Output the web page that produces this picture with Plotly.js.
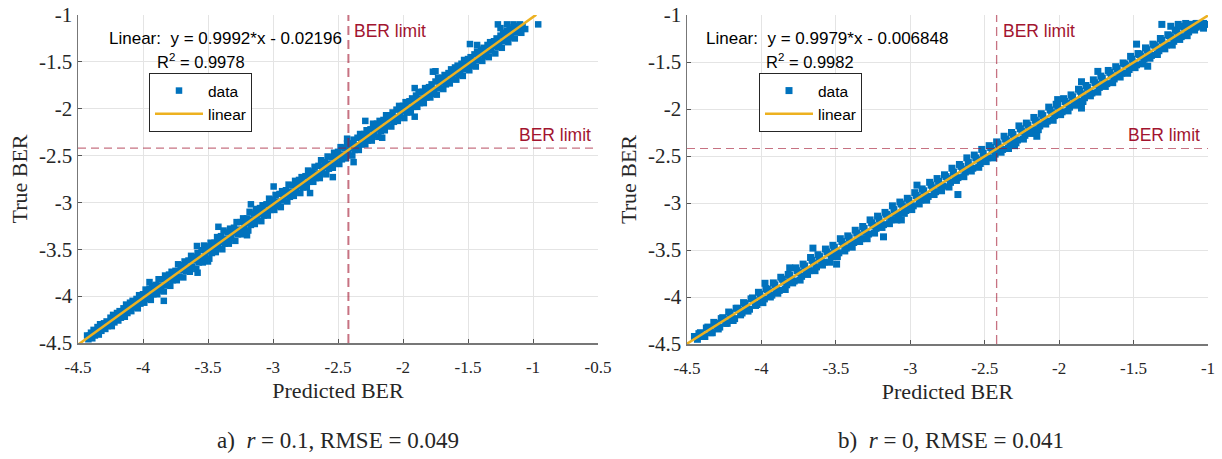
<!DOCTYPE html>
<html><head><meta charset="utf-8">
<script src="https://cdn.plot.ly/plotly-3.0.1.min.js"></script>
<style>html,body{margin:0;padding:0;background:#fff}#chart{width:1222px;height:459px}</style>
</head><body><div id="chart"></div>
<script>
// ---------- Panel a) r = 0.1 ----------
const predA_U = [-4.43,-4.38,-4.33,-4.28,-4.23,-4.18,-4.13,-4.08,-4.03,-3.98,-3.93,-3.88,-3.83,-3.78,-3.73,-3.68,-3.63,-3.58,-3.53,-3.48,-3.43,-3.38,-3.33,-3.28,-3.23,-3.18,-3.13,-3.08,-3.03,-2.98,-2.93,-2.88,-2.83,-2.78,-2.73,-2.68,-2.63,-2.58,-2.53,-2.48,-2.43,-2.38,-2.33,-2.28,-2.23,-2.18,-2.13,-2.08,-2.03,-1.98,-1.93,-1.88,-1.83,-1.78,-1.73,-1.68,-1.63,-1.58,-1.53,-1.48,-1.43,-1.38,-1.33,-1.28,-1.23,-1.18,-1.13];
const trueA_U = [-4.42,-4.36,-4.30,-4.27,-4.20,-4.16,-4.09,-4.05,-3.99,-3.93,-3.89,-3.82,-3.78,-3.74,-3.66,-3.63,-3.57,-3.54,-3.46,-3.43,-3.37,-3.30,-3.28,-3.21,-3.17,-3.10,-3.07,-3.03,-2.96,-2.92,-2.88,-2.81,-2.77,-2.73,-2.66,-2.62,-2.55,-2.51,-2.47,-2.41,-2.37,-2.33,-2.27,-2.23,-2.16,-2.13,-2.07,-2.04,-1.97,-1.93,-1.89,-1.82,-1.78,-1.74,-1.67,-1.64,-1.58,-1.54,-1.48,-1.45,-1.39,-1.35,-1.29,-1.25,-1.19,-1.15,-1.12];
const predA_UM = [-4.40,-4.35,-4.30,-4.25,-4.20,-4.15,-4.10,-4.05,-4.00,-3.95,-3.90,-3.85,-3.80,-3.75,-3.70,-3.65,-3.60,-3.55,-3.50,-3.45,-3.40,-3.35,-3.30,-3.25,-3.20,-3.15,-3.10,-3.05,-3.00,-2.95,-2.90,-2.85,-2.80,-2.75,-2.70,-2.65,-2.60,-2.55,-2.50,-2.45,-2.40,-2.35,-2.30,-2.25,-2.20,-2.15,-2.10,-2.05,-2.00,-1.95,-1.90,-1.85,-1.80,-1.75,-1.70,-1.65,-1.60,-1.55,-1.50,-1.45,-1.40,-1.35,-1.30,-1.25,-1.20,-1.15,-1.10];
const trueA_UM = [-4.39,-4.33,-4.29,-4.23,-4.18,-4.13,-4.07,-4.03,-3.98,-3.92,-3.88,-3.82,-3.77,-3.73,-3.67,-3.62,-3.58,-3.51,-3.47,-3.43,-3.36,-3.32,-3.27,-3.21,-3.17,-3.12,-3.06,-3.02,-2.97,-2.91,-2.87,-2.82,-2.76,-2.72,-2.67,-2.61,-2.57,-2.52,-2.46,-2.42,-2.37,-2.31,-2.27,-2.22,-2.16,-2.12,-2.07,-2.01,-1.97,-1.92,-1.86,-1.82,-1.77,-1.71,-1.67,-1.62,-1.56,-1.52,-1.47,-1.42,-1.37,-1.32,-1.28,-1.22,-1.17,-1.13,-1.11];
const predA_M = [-4.41,-4.36,-4.31,-4.26,-4.21,-4.16,-4.11,-4.06,-4.01,-3.96,-3.91,-3.86,-3.81,-3.76,-3.71,-3.66,-3.61,-3.56,-3.51,-3.46,-3.41,-3.36,-3.31,-3.26,-3.21,-3.16,-3.11,-3.06,-3.01,-2.96,-2.91,-2.86,-2.81,-2.76,-2.71,-2.66,-2.61,-2.56,-2.51,-2.46,-2.41,-2.36,-2.31,-2.26,-2.21,-2.16,-2.11,-2.06,-2.01,-1.96,-1.91,-1.86,-1.81,-1.76,-1.71,-1.66,-1.61,-1.56,-1.51,-1.46,-1.41,-1.36,-1.31,-1.26,-1.21,-1.16,-1.11];
const trueA_M = [-4.42,-4.39,-4.31,-4.29,-4.22,-4.19,-4.12,-4.09,-4.02,-3.99,-3.92,-3.89,-3.82,-3.79,-3.72,-3.69,-3.62,-3.59,-3.52,-3.49,-3.42,-3.39,-3.32,-3.29,-3.22,-3.19,-3.12,-3.09,-3.02,-2.99,-2.92,-2.89,-2.82,-2.79,-2.72,-2.69,-2.62,-2.59,-2.52,-2.49,-2.42,-2.39,-2.32,-2.29,-2.22,-2.19,-2.12,-2.09,-2.02,-1.99,-1.92,-1.89,-1.82,-1.79,-1.72,-1.69,-1.62,-1.59,-1.52,-1.49,-1.42,-1.39,-1.33,-1.29,-1.23,-1.18,-1.13];
const predA_ML = [-4.42,-4.37,-4.32,-4.27,-4.22,-4.17,-4.12,-4.07,-4.02,-3.97,-3.92,-3.87,-3.82,-3.77,-3.72,-3.67,-3.62,-3.57,-3.52,-3.47,-3.42,-3.37,-3.32,-3.27,-3.22,-3.17,-3.12,-3.07,-3.02,-2.97,-2.92,-2.87,-2.82,-2.77,-2.72,-2.67,-2.62,-2.57,-2.52,-2.47,-2.42,-2.37,-2.32,-2.27,-2.22,-2.17,-2.12,-2.07,-2.02,-1.97,-1.92,-1.87,-1.82,-1.77,-1.72,-1.67,-1.62,-1.57,-1.52,-1.47,-1.42,-1.37,-1.32,-1.27,-1.22,-1.17,-1.12];
const trueA_ML = [-4.46,-4.42,-4.37,-4.32,-4.28,-4.23,-4.18,-4.12,-4.08,-4.03,-3.98,-3.94,-3.88,-3.83,-3.79,-3.73,-3.69,-3.64,-3.58,-3.54,-3.48,-3.44,-3.38,-3.34,-3.28,-3.24,-3.18,-3.14,-3.08,-3.04,-2.98,-2.94,-2.88,-2.84,-2.78,-2.74,-2.68,-2.64,-2.58,-2.54,-2.48,-2.44,-2.38,-2.34,-2.28,-2.24,-2.18,-2.14,-2.08,-2.04,-1.98,-1.94,-1.88,-1.84,-1.78,-1.74,-1.68,-1.64,-1.58,-1.54,-1.48,-1.44,-1.38,-1.34,-1.28,-1.24,-1.18];
const predA_L = [-4.39,-4.34,-4.29,-4.24,-4.19,-4.14,-4.09,-4.04,-3.99,-3.94,-3.89,-3.84,-3.79,-3.74,-3.69,-3.64,-3.59,-3.54,-3.49,-3.44,-3.39,-3.34,-3.29,-3.24,-3.19,-3.14,-3.09,-3.04,-2.99,-2.94,-2.89,-2.84,-2.79,-2.74,-2.69,-2.64,-2.59,-2.54,-2.49,-2.44,-2.39,-2.34,-2.29,-2.24,-2.19,-2.14,-2.09,-2.04,-1.99,-1.94,-1.89,-1.84,-1.79,-1.74,-1.69,-1.64,-1.59,-1.54,-1.49,-1.44,-1.39,-1.34,-1.29,-1.24,-1.19,-1.14,-1.09];
const trueA_L = [-4.45,-4.41,-4.35,-4.32,-4.26,-4.22,-4.16,-4.13,-4.07,-4.04,-3.98,-3.95,-3.89,-3.83,-3.80,-3.74,-3.71,-3.64,-3.60,-3.53,-3.50,-3.44,-3.41,-3.34,-3.30,-3.23,-3.20,-3.14,-3.08,-3.05,-2.99,-2.93,-2.90,-2.84,-2.78,-2.74,-2.70,-2.63,-2.59,-2.53,-2.50,-2.44,-2.38,-2.34,-2.30,-2.23,-2.19,-2.13,-2.10,-2.04,-1.98,-1.94,-1.88,-1.85,-1.79,-1.73,-1.69,-1.65,-1.59,-1.55,-1.49,-1.45,-1.41,-1.35,-1.29,-1.25,-1.19];
const predA_O = [-2.995,-3.17,-2.715,-2.54,-2.38,-2.16,-2.43,-3.84,-3.95,-3.58,-3.585,-1.485,-1.43,-1.77,-1.91,-1.27,-0.96,-1.91,-1.75,-2.29,-3.42,-3.2,-3.5,-1.08,-1.06,-1.12,-1.2,-1.15,-1.25,-1.1];
const trueA_O = [-2.83,-3.02,-2.90,-2.73,-2.57,-2.31,-2.32,-4.05,-3.85,-3.75,-3.465,-1.31,-1.32,-1.605,-2.085,-1.10,-1.10,-1.78,-1.60,-2.13,-3.26,-3.35,-3.63,-1.12,-1.15,-1.18,-1.10,-1.10,-1.14,-1.10];
const fitA_x = [-4.5, -0.975];
const fitA_y = [-4.518, -0.996];

// ---------- Panel b) r = 0 ----------
const predB_U = [-4.42,-4.37,-4.32,-4.27,-4.22,-4.17,-4.12,-4.07,-4.02,-3.97,-3.92,-3.87,-3.82,-3.77,-3.72,-3.67,-3.62,-3.57,-3.52,-3.47,-3.42,-3.37,-3.32,-3.27,-3.22,-3.17,-3.12,-3.07,-3.02,-2.97,-2.92,-2.87,-2.82,-2.77,-2.72,-2.67,-2.62,-2.57,-2.52,-2.47,-2.42,-2.37,-2.32,-2.27,-2.22,-2.17,-2.12,-2.07,-2.02,-1.97,-1.92,-1.87,-1.82,-1.77,-1.72,-1.67,-1.62,-1.57,-1.52,-1.47,-1.42,-1.37,-1.32,-1.27,-1.22,-1.17,-1.12,-1.07];
const trueB_U = [-4.39,-4.33,-4.27,-4.23,-4.16,-4.12,-4.06,-4.02,-3.95,-3.91,-3.85,-3.79,-3.76,-3.69,-3.65,-3.58,-3.55,-3.49,-3.45,-3.38,-3.35,-3.29,-3.25,-3.18,-3.14,-3.10,-3.03,-2.99,-2.95,-2.89,-2.85,-2.78,-2.74,-2.70,-2.63,-2.59,-2.52,-2.49,-2.43,-2.39,-2.35,-2.29,-2.25,-2.18,-2.15,-2.09,-2.05,-1.98,-1.95,-1.89,-1.85,-1.79,-1.75,-1.69,-1.65,-1.59,-1.55,-1.51,-1.44,-1.41,-1.35,-1.31,-1.25,-1.21,-1.16,-1.12,-1.10,-1.09];
const predB_UM = [-4.41,-4.36,-4.31,-4.26,-4.21,-4.16,-4.11,-4.06,-4.01,-3.96,-3.91,-3.86,-3.81,-3.76,-3.71,-3.66,-3.61,-3.56,-3.51,-3.46,-3.41,-3.36,-3.31,-3.26,-3.21,-3.16,-3.11,-3.06,-3.01,-2.96,-2.91,-2.86,-2.81,-2.76,-2.71,-2.66,-2.61,-2.56,-2.51,-2.46,-2.41,-2.36,-2.31,-2.26,-2.21,-2.16,-2.11,-2.06,-2.01,-1.96,-1.91,-1.86,-1.81,-1.76,-1.71,-1.66,-1.61,-1.56,-1.51,-1.46,-1.41,-1.36,-1.31,-1.26,-1.21,-1.16,-1.11,-1.06];
const trueB_UM = [-4.38,-4.32,-4.28,-4.22,-4.17,-4.12,-4.07,-4.01,-3.97,-3.92,-3.87,-3.81,-3.77,-3.72,-3.67,-3.61,-3.57,-3.52,-3.47,-3.41,-3.37,-3.32,-3.27,-3.21,-3.17,-3.12,-3.07,-3.01,-2.97,-2.92,-2.87,-2.81,-2.77,-2.72,-2.67,-2.61,-2.57,-2.52,-2.47,-2.41,-2.37,-2.32,-2.27,-2.21,-2.17,-2.12,-2.07,-2.01,-1.97,-1.92,-1.87,-1.81,-1.77,-1.72,-1.67,-1.61,-1.57,-1.52,-1.47,-1.42,-1.37,-1.32,-1.27,-1.22,-1.17,-1.13,-1.10,-1.10];
const predB_M = [-4.45,-4.40,-4.35,-4.30,-4.25,-4.20,-4.15,-4.10,-4.05,-4.00,-3.95,-3.90,-3.85,-3.80,-3.75,-3.70,-3.65,-3.60,-3.55,-3.50,-3.45,-3.40,-3.35,-3.30,-3.25,-3.20,-3.15,-3.10,-3.05,-3.00,-2.95,-2.90,-2.85,-2.80,-2.75,-2.70,-2.65,-2.60,-2.55,-2.50,-2.45,-2.40,-2.35,-2.30,-2.25,-2.20,-2.15,-2.10,-2.05,-2.00,-1.95,-1.90,-1.85,-1.80,-1.75,-1.70,-1.65,-1.60,-1.55,-1.50,-1.45,-1.40,-1.35,-1.30,-1.25,-1.20,-1.15,-1.10,-1.05];
const trueB_M = [-4.42,-4.41,-4.34,-4.31,-4.24,-4.21,-4.14,-4.11,-4.04,-4.01,-3.94,-3.91,-3.84,-3.81,-3.74,-3.71,-3.64,-3.61,-3.54,-3.51,-3.44,-3.41,-3.34,-3.31,-3.24,-3.21,-3.14,-3.11,-3.04,-3.01,-2.94,-2.91,-2.84,-2.81,-2.74,-2.71,-2.64,-2.61,-2.54,-2.51,-2.44,-2.41,-2.34,-2.31,-2.24,-2.21,-2.14,-2.11,-2.04,-2.01,-1.94,-1.91,-1.84,-1.81,-1.74,-1.71,-1.64,-1.61,-1.54,-1.51,-1.44,-1.41,-1.34,-1.31,-1.24,-1.21,-1.15,-1.13,-1.11];
const predB_ML = [-4.43,-4.38,-4.33,-4.28,-4.23,-4.18,-4.13,-4.08,-4.03,-3.98,-3.93,-3.88,-3.83,-3.78,-3.73,-3.68,-3.63,-3.58,-3.53,-3.48,-3.43,-3.38,-3.33,-3.28,-3.23,-3.18,-3.13,-3.08,-3.03,-2.98,-2.93,-2.88,-2.83,-2.78,-2.73,-2.68,-2.63,-2.58,-2.53,-2.48,-2.43,-2.38,-2.33,-2.28,-2.23,-2.18,-2.13,-2.08,-2.03,-1.98,-1.93,-1.88,-1.83,-1.78,-1.73,-1.68,-1.63,-1.58,-1.53,-1.48,-1.43,-1.38,-1.33,-1.28,-1.23,-1.18,-1.13,-1.08,-1.03];
const trueB_ML = [-4.45,-4.42,-4.38,-4.32,-4.28,-4.23,-4.17,-4.13,-4.08,-4.02,-3.98,-3.93,-3.87,-3.83,-3.78,-3.72,-3.68,-3.63,-3.57,-3.53,-3.48,-3.42,-3.38,-3.33,-3.27,-3.23,-3.18,-3.12,-3.08,-3.03,-2.97,-2.93,-2.88,-2.82,-2.78,-2.73,-2.67,-2.63,-2.58,-2.52,-2.48,-2.43,-2.37,-2.33,-2.28,-2.22,-2.18,-2.13,-2.07,-2.03,-1.98,-1.92,-1.88,-1.83,-1.77,-1.73,-1.68,-1.62,-1.58,-1.53,-1.47,-1.43,-1.38,-1.32,-1.28,-1.23,-1.18,-1.13,-1.09];
const predB_L = [-4.39,-4.34,-4.29,-4.24,-4.19,-4.14,-4.09,-4.04,-3.99,-3.94,-3.89,-3.84,-3.79,-3.74,-3.69,-3.64,-3.59,-3.54,-3.49,-3.44,-3.39,-3.34,-3.29,-3.24,-3.19,-3.14,-3.09,-3.04,-2.99,-2.94,-2.89,-2.84,-2.79,-2.74,-2.69,-2.64,-2.59,-2.54,-2.49,-2.44,-2.39,-2.34,-2.29,-2.24,-2.19,-2.14,-2.09,-2.04,-1.99,-1.94,-1.89,-1.84,-1.79,-1.74,-1.69,-1.64,-1.59,-1.54,-1.49,-1.44,-1.39,-1.34,-1.29,-1.24,-1.19,-1.14,-1.09,-1.04];
const trueB_L = [-4.42,-4.38,-4.34,-4.28,-4.25,-4.19,-4.15,-4.09,-4.06,-4.00,-3.96,-3.92,-3.85,-3.82,-3.76,-3.72,-3.66,-3.63,-3.57,-3.51,-3.47,-3.41,-3.38,-3.32,-3.26,-3.22,-3.18,-3.11,-3.07,-3.01,-2.97,-2.91,-2.87,-2.83,-2.76,-2.72,-2.66,-2.62,-2.56,-2.52,-2.46,-2.42,-2.36,-2.32,-2.26,-2.22,-2.16,-2.12,-2.06,-2.02,-1.96,-1.92,-1.86,-1.82,-1.76,-1.72,-1.66,-1.62,-1.56,-1.52,-1.46,-1.42,-1.36,-1.32,-1.26,-1.22,-1.16,-1.12];
const predB_O = [-1.31,-1.48,-1.405,-1.74,-1.85,-2.01,-1.85,-2.15,-2.30,-2.955,-3.654,-3.495,-3.06,-3.18,-3.976,-3.81,-2.68,-1.02,-1.03,-1.08,-1.15,-1.2,-1.25];
const trueB_O = [-1.10,-1.31,-1.545,-1.60,-1.71,-1.90,-1.99,-2.29,-2.39,-2.81,-3.48,-3.65,-3.18,-3.36,-3.854,-3.69,-2.91,-1.10,-1.14,-1.09,-1.09,-1.10,-1.12];
const fitB_x = [-4.5, -1.0];
const fitB_y = [-4.497, -1.005];

// ---------- shared ----------
const berLimit = -2.42;
const tickValsA = [-4.5,-4,-3.5,-3,-2.5,-2,-1.5,-1,-0.5];
const tickTextA = ["-4.5","-4","-3.5","-3","-2.5","-2","-1.5","-1","-0.5"];
const tickValsB = [-4.5,-4,-3.5,-3,-2.5,-2,-1.5,-1];
const tickTextB = ["-4.5","-4","-3.5","-3","-2.5","-2","-1.5","-1"];
const yTickVals = [-4.5,-4,-3.5,-3,-2.5,-2,-1.5,-1];
const yTickText = ["-4.5","-4","-3.5","-3","-2.5","-2","-1.5","-1"];
const eqA = ["Linear:  y = 0.9992*x - 0.02196", "R<sup>2</sup> = 0.9978"];
const eqB = ["Linear:  y = 0.9979*x - 0.006848", "R<sup>2</sup> = 0.9982"];
const captions = ["a)  <i>r</i> = 0.1, RMSE = 0.049", "b)  <i>r</i> = 0, RMSE = 0.041"];

const blue = '#0072BD', gold = '#EDB120', red = '#A2142F';

const traces = [
  {x: [].concat(predA_U, predA_UM, predA_M, predA_ML, predA_L, predA_O), y: [].concat(trueA_U, trueA_UM, trueA_M, trueA_ML, trueA_L, trueA_O),
   type: 'scatter', mode: 'markers', name: 'data', marker: {color: blue, size: 6.5, symbol: 'square'}, xaxis: 'x', yaxis: 'y', legend: 'legend'},
  {x: fitA_x, y: fitA_y, type: 'scatter', mode: 'lines', name: 'linear', line: {color: gold, width: 2.5}, xaxis: 'x', yaxis: 'y', legend: 'legend'},
  {x: [].concat(predB_U, predB_UM, predB_M, predB_ML, predB_L, predB_O), y: [].concat(trueB_U, trueB_UM, trueB_M, trueB_ML, trueB_L, trueB_O),
   type: 'scatter', mode: 'markers', name: 'data', marker: {color: blue, size: 7, symbol: 'square'}, xaxis: 'x2', yaxis: 'y2', legend: 'legend2'},
  {x: fitB_x, y: fitB_y, type: 'scatter', mode: 'lines', name: 'linear', line: {color: gold, width: 2.5}, xaxis: 'x2', yaxis: 'y2', legend: 'legend2'}
];

const serif = 'Liberation Serif, Times New Roman, serif';
const sans = 'Liberation Sans, Arial, sans-serif';
const W = 1222, H = 459;

function xax(dom, range, tv, tt) {
  return {domain: dom, range: range, tickvals: tv, ticktext: tt, ticks: 'inside', ticklen: 4, tickcolor: '#555',
    showline: true, linecolor: '#777', linewidth: 1.5, mirror: false, showgrid: true, gridcolor: '#e4e4e4', zeroline: false,
    tickfont: {family: serif, size: 17, color: '#262626'}, ticklabelstandoff: 8,
    title: {text: 'Predicted BER', font: {family: serif, size: 22, color: '#262626'}, standoff: 6}};
}
function yax(dom, anchor) {
  return {domain: dom, range: [-4.5, -1], tickvals: yTickVals, ticktext: yTickText, ticks: 'inside', ticklen: 4, tickcolor: '#555',
    showline: true, linecolor: '#777', linewidth: 1.5, showgrid: true, gridcolor: '#e4e4e4', zeroline: false, anchor: anchor,
    tickfont: {family: serif, size: 21, color: '#262626'},
    title: {text: 'True BER', font: {family: serif, size: 22, color: '#262626'}, standoff: 5}};
}
const legendBase = {xanchor: 'left', yanchor: 'top', bgcolor: '#fff', bordercolor: '#262626', borderwidth: 1,
  font: {family: sans, size: 15.5, color: '#000'}, itemwidth: 48, tracegroupgap: 0};

const xdA = [78/W, 598/W], xdB = [687/W, 1208/W];
const ydA = [1-343/H, 1-15/H], ydB = [1-344/H, 1-15/H];

const limColor = 'rgba(162,20,47,0.6)';
const shapes = [
  {type: 'line', xref: 'x', yref: 'y domain', x0: berLimit, x1: berLimit, y0: 0, y1: 1, line: {color: limColor, width: 2, dash: '9px,5px'}},
  {type: 'line', xref: 'x domain', yref: 'y', x0: 0, x1: 1, y0: berLimit, y1: berLimit, line: {color: limColor, width: 1.2, dash: '8px,5px'}},
  {type: 'line', xref: 'x2', yref: 'y2 domain', x0: berLimit, x1: berLimit, y0: 0, y1: 1, line: {color: limColor, width: 1.3, dash: '9px,5px'}},
  {type: 'line', xref: 'x2 domain', yref: 'y2', x0: 0, x1: 1, y0: berLimit, y1: berLimit, line: {color: limColor, width: 1.2, dash: '8px,5px'}}
];

const annFont = {family: sans, size: 17, color: '#000'};
const r2Font = {family: sans, size: 16.5, color: '#000'};
const redFont = {family: sans, size: 17.5, color: red};
const capFont = {family: serif, size: 23, color: '#262626'};
const annotations = [
  {xref: 'paper', yref: 'paper', x: 225/W, y: 1-38/H, text: eqA[0], showarrow: false, font: annFont, xanchor: 'center', yanchor: 'middle'},
  {xref: 'paper', yref: 'paper', x: 201/W, y: 1-61/H, text: eqA[1], showarrow: false, font: r2Font, xanchor: 'center', yanchor: 'middle'},
  {xref: 'paper', yref: 'paper', x: 827/W, y: 1-38/H, text: eqB[0], showarrow: false, font: annFont, xanchor: 'center', yanchor: 'middle'},
  {xref: 'paper', yref: 'paper', x: 810/W, y: 1-61/H, text: eqB[1], showarrow: false, font: r2Font, xanchor: 'center', yanchor: 'middle'},
  {xref: 'x', yref: 'paper', x: berLimit, xshift: 4, y: 1-31/H, text: 'BER limit', showarrow: false, font: redFont, xanchor: 'left', yanchor: 'middle'},
  {xref: 'x domain', yref: 'y', x: 0.99, y: berLimit, yshift: 1, text: 'BER limit', showarrow: false, font: redFont, xanchor: 'right', yanchor: 'bottom'},
  {xref: 'x2', yref: 'paper', x: berLimit, xshift: 4, y: 1-31/H, text: 'BER limit', showarrow: false, font: redFont, xanchor: 'left', yanchor: 'middle'},
  {xref: 'x2 domain', yref: 'y2', x: 0.988, y: berLimit, yshift: 1, text: 'BER limit', showarrow: false, font: redFont, xanchor: 'right', yanchor: 'bottom'},
  {xref: 'paper', yref: 'paper', x: 338/W, y: 1-440/H, text: captions[0], showarrow: false, font: capFont, xanchor: 'center', yanchor: 'middle'},
  {xref: 'paper', yref: 'paper', x: 951/W, y: 1-440/H, text: captions[1], showarrow: false, font: capFont, xanchor: 'center', yanchor: 'middle'}
];

const layout = {
  width: W, height: H, margin: {l: 0, r: 0, t: 0, b: 0}, paper_bgcolor: '#fff', plot_bgcolor: '#fff',
  font: {family: sans},
  xaxis: Object.assign(xax(xdA, [-4.5, -0.5], tickValsA, tickTextA), {anchor: 'y'}),
  yaxis: yax(ydA, 'x'),
  xaxis2: Object.assign(xax(xdB, [-4.5, -1], tickValsB, tickTextB), {anchor: 'y2'}),
  yaxis2: yax(ydB, 'x2'),
  legend: Object.assign({}, legendBase, {x: 149/W, y: 1-73/H}),
  legend2: Object.assign({}, legendBase, {x: 759/W, y: 1-73/H}),
  showlegend: true,
  shapes: shapes,
  annotations: annotations
};

Plotly.newPlot('chart', traces, layout, {displayModeBar: false, staticPlot: true});
</script>
</body></html>
